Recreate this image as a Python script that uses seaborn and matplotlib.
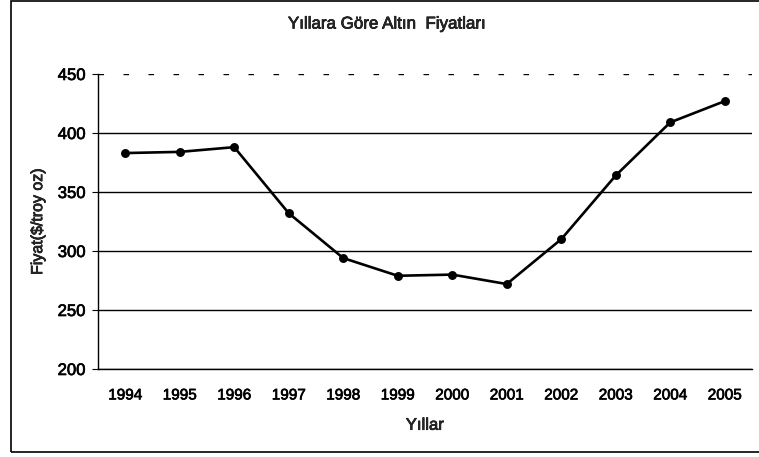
import matplotlib
matplotlib.use("Agg")
import matplotlib.pyplot as plt
import matplotlib.patheffects as pe
from matplotlib.patches import Rectangle
import seaborn as sns
import pandas as pd

years = ["1994", "1995", "1996", "1997", "1998", "1999",
         "2000", "2001", "2002", "2003", "2004", "2005"]
prices = [383, 384, 388, 332, 294, 279, 280, 272, 310, 364, 409, 427]
y_ticks = [200, 250, 300, 350, 400, 450]

title = "Yıllara Göre Altın  Fiyatları"
x_label = "Yıllar"
y_label = "Fiyat($/troy oz)"

sns.set_style("white")
plt.rcParams['font.family'] = ['Liberation Sans', 'DejaVu Sans']

# scanned print looks a bit heavier than plain text
heavy = [pe.withStroke(linewidth=0.5, foreground='black')]

df = pd.DataFrame({"Yıl": years, "Fiyat": prices})

fig = plt.figure(figsize=(7.59, 4.57), dpi=100)
ax = fig.add_axes([98 / 759, 88 / 457, 654 / 759, 295 / 457])

sns.pointplot(data=df, x="Yıl", y="Fiyat", color="black", markers="o",
              markersize=5, linewidth=1.9, ax=ax)

ax.set_ylim(200, 450)
ax.set_xlim(-0.5, len(years) - 0.5)
ax.set_yticks(y_ticks)

# horizontal grid, the top one looks broken in the scan
ax.grid(axis='y', color='black', linewidth=1.0)
ax.grid(axis='x', visible=False)
ax.set_axisbelow(True)
gl = ax.get_ygridlines()
gl[-1].set_linestyle((0, (4, 14)))

for s in ["top", "right"]:
    ax.spines[s].set_visible(False)
for s in ["left", "bottom"]:
    ax.spines[s].set_color("black")
    ax.spines[s].set_linewidth(1.0)

# tick marks between the categories
ax.set_xticks([i - 0.5 for i in range(len(years) + 1)], minor=True)
ax.tick_params(axis='x', which='major', length=0, pad=14, labelsize=11, colors='black')
ax.tick_params(axis='x', which='minor', length=4, direction='out', color='black')
ax.tick_params(axis='y', which='major', length=4, direction='out', pad=5,
               labelsize=12, colors='black', left=True)

ax.set_xlabel(x_label, fontsize=12, labelpad=11)
ax.set_ylabel(y_label, fontsize=11.5, labelpad=9)

t = fig.text(387 / 759, 1 - 24 / 457, title, ha='center', va='center', fontsize=12.2)

for txt in ax.get_xticklabels() + ax.get_yticklabels() + [ax.xaxis.label, ax.yaxis.label, t]:
    txt.set_path_effects(heavy)

# chart outer frame
fig.add_artist(Rectangle((11 / 759, 5 / 457), 1.2, 451 / 457, fill=False,
                         edgecolor='black', linewidth=1.2, transform=fig.transFigure))

fig.savefig("out.png", dpi=100)
plt.close()
